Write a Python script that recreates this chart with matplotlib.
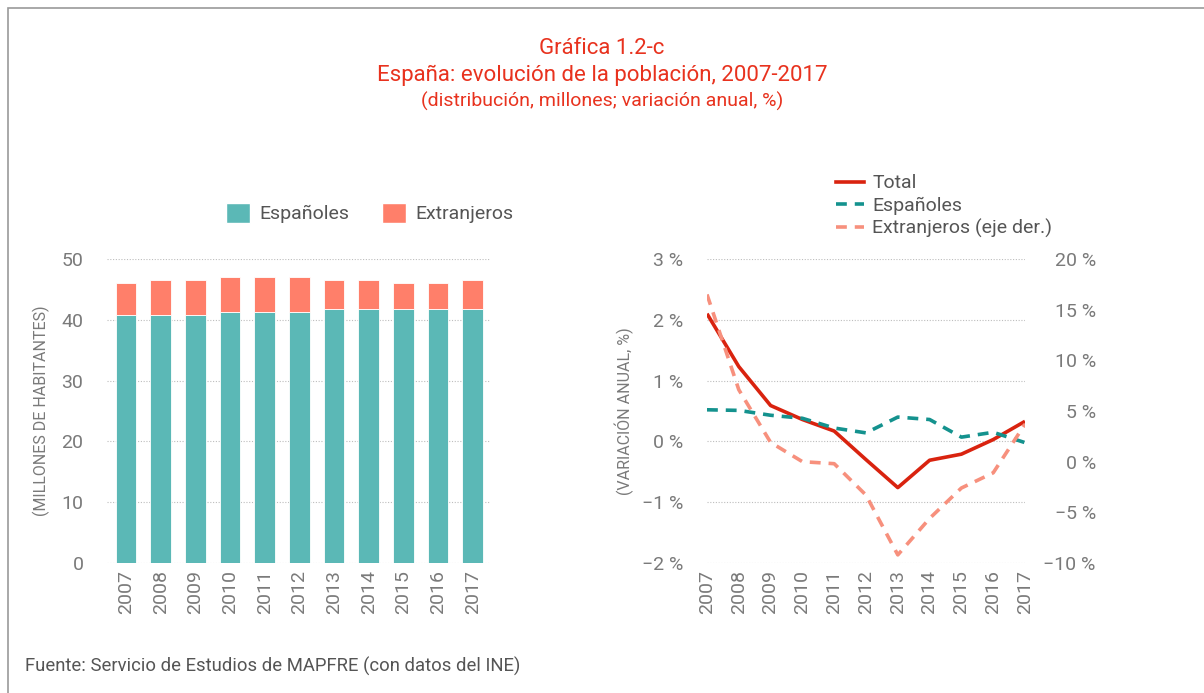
"""
Gráfica 1.2-c: España, evolución de la población 2007-2017.
"""
import matplotlib
matplotlib.use("Agg")
import matplotlib.pyplot as plt
from matplotlib.patches import Rectangle
from matplotlib.lines import Line2D
from matplotlib.ticker import FuncFormatter

plt.rcParams["font.family"] = ["Roboto", "DejaVu Sans"]

years = [2007, 2008, 2009, 2010, 2011, 2012, 2013, 2014, 2015, 2016, 2017]

# distribución, millones
espanoles_mill = [40.8, 40.8, 40.8, 41.3, 41.3, 41.3, 41.7, 41.7, 41.7, 41.7, 41.7]
extranjeros_mill = [5.3, 5.8, 5.8, 5.7, 5.7, 5.7, 4.9, 4.9, 4.4, 4.4, 4.9]

# variación anual, %
var_total = [2.10, 1.23, 0.59, 0.36, 0.17, -0.30, -0.76, -0.31, -0.21, 0.03, 0.33]
var_espanoles = [0.52, 0.51, 0.43, 0.38, 0.22, 0.14, 0.40, 0.36, 0.07, 0.15, -0.02]
var_extranjeros = [16.5, 7.1, 1.9, 0.0, -0.2, -3.3, -9.2, -5.6, -2.6, -1.1, 3.7]

TEAL_BAR = "#5bb8b6"
SALMON_BAR = "#ff7f6a"
RED = "#d9230f"
TEAL_LINE = "#14928e"
SALMON_LINE = "#f7907d"
GRAY = "#7a7a7a"
TITLE_RED = "#e8321e"

fig = plt.figure(figsize=(12.04, 6.93), dpi=100)
fig.patches.append(Rectangle((8 / 1204, -0.1), 1.2, 1.1 - 8 / 693, transform=fig.transFigure,
                             fill=False, edgecolor="#9a9a9a", lw=1.2))

fig.text(0.5, 1 - 48 / 693, "Gráfica 1.2-c", ha="center", va="center", color=TITLE_RED,
         fontsize=16)
fig.text(0.5, 1 - 75 / 693, "España: evolución de la población, 2007-2017", ha="center",
         va="center", color=TITLE_RED, fontsize=16)
fig.text(0.5, 1 - 101 / 693, "(distribución, millones; variación anual, %)", ha="center",
         va="center", color=TITLE_RED, fontsize=14)
fig.text(25 / 1204, 1 - 666 / 693, "Fuente: Servicio de Estudios de MAPFRE (con datos del INE)",
         ha="left", va="center", color="#555555", fontsize=13.3)


def style_axes(ax):
    for s in ax.spines.values():
        s.set_visible(False)
    ax.tick_params(length=0, colors=GRAY, labelsize=14)
    ax.grid(axis="y", color="#bdbdbd", linestyle=(0, (1, 1.5)), lw=0.8)
    ax.set_axisbelow(True)


# ---- left: stacked bars
ax1 = fig.add_axes([107 / 1204, 130 / 693, 383 / 1204, 304 / 693])
xs = list(range(len(years)))
ax1.bar(xs, espanoles_mill, width=0.6, color=TEAL_BAR, edgecolor="white", lw=0.6)
ax1.bar(xs, extranjeros_mill, width=0.6, bottom=espanoles_mill, color=SALMON_BAR,
        edgecolor="white", lw=0.6)
ax1.set_xlim(-0.55, 10.5)
ax1.set_ylim(0, 50)
ax1.set_yticks([0, 10, 20, 30, 40, 50])
ax1.set_xticks(xs)
ax1.set_xticklabels([str(y) for y in years], rotation=90, fontsize=12)
style_axes(ax1)
ax1.tick_params(axis="y", pad=17)
ax1.tick_params(axis="x", pad=5)
ax1.set_ylabel("(MILLONES DE HABITANTES)", color=GRAY, fontsize=11.5, labelpad=8)

h1 = Rectangle((0, 0), 1, 1, facecolor=TEAL_BAR, edgecolor="white")
h2 = Rectangle((0, 0), 1, 1, facecolor=SALMON_BAR, edgecolor="white")
leg1 = fig.legend([h1, h2], ["Españoles", "Extranjeros"], loc="center",
                  bbox_to_anchor=(370 / 1204, 1 - 213 / 693), ncol=2, frameon=False,
                  fontsize=14, handlelength=1.2, handleheight=1.2, columnspacing=1.7,
                  handletextpad=0.5)
for t in leg1.get_texts():
    t.set_color("#555555")

# ---- right: annual change
ax2 = fig.add_axes([707 / 1204, 130 / 693, 318 / 1204, 304 / 693])
ax2.plot(years, var_total, color=RED, lw=2.6, solid_capstyle="butt")
ax2.plot(years, var_espanoles, color=TEAL_LINE, lw=2.6, dashes=(3, 2.2))
ax2.set_xlim(2007, 2017)
ax2.set_ylim(-2, 3)
ax2.set_yticks([-2, -1, 0, 1, 2, 3])
ax2.yaxis.set_major_formatter(FuncFormatter(lambda v, p: f"{v:.0f} %".replace("-", "−")))
ax2.set_xticks(years)
ax2.set_xticklabels([str(y) for y in years], rotation=90, fontsize=12)
style_axes(ax2)
ax2.tick_params(axis="y", pad=17)
ax2.tick_params(axis="x", pad=5)
ax2.set_ylabel("(VARIACIÓN ANUAL, %)", color=GRAY, fontsize=11.5, labelpad=6)

ax3 = ax2.twinx()
ax3.plot(years, var_extranjeros, color=SALMON_LINE, lw=2.6, dashes=(3, 2.2))
ax3.set_ylim(-10, 20)
ax3.set_yticks([-10, -5, 0, 5, 10, 15, 20])
ax3.yaxis.set_major_formatter(FuncFormatter(lambda v, p: f"{v:.0f} %".replace("-", "−")))
for s in ax3.spines.values():
    s.set_visible(False)
ax3.tick_params(length=0, colors=GRAY, labelsize=14)
for lab in ax3.get_yticklabels():
    lab.set_horizontalalignment("right")
ax3.tick_params(axis="y", pad=51)

lh = [Line2D([], [], color=RED, lw=2.6),
      Line2D([], [], color=TEAL_LINE, lw=2.6, dashes=(3, 2.2)),
      Line2D([], [], color=SALMON_LINE, lw=2.6, dashes=(3, 2.2))]
leg2 = fig.legend(lh, ["Total", "Españoles", "Extranjeros (eje der.)"], loc="upper left",
                  bbox_to_anchor=(818 / 1204, 1 - 157 / 693), frameon=False, fontsize=14,
                  handlelength=1.45, handletextpad=0.45, labelspacing=0.2)
for t in leg2.get_texts():
    t.set_color("#555555")

fig.savefig("out.png", dpi=100)
